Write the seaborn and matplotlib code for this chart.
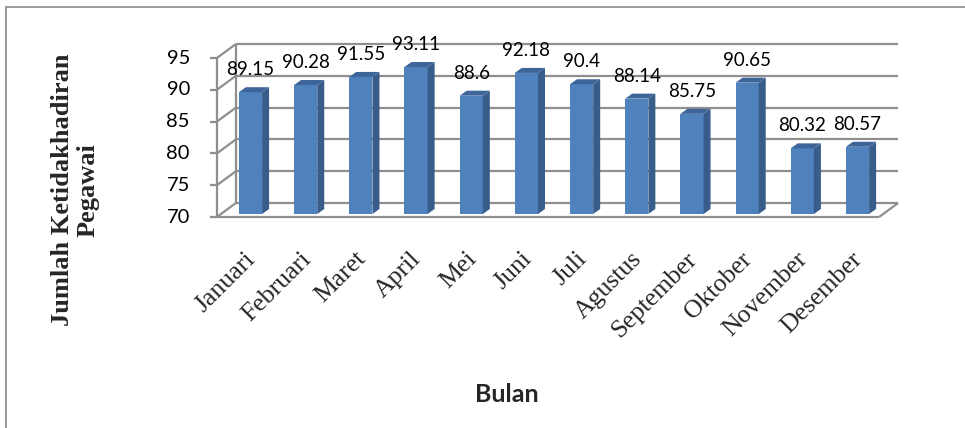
import matplotlib
matplotlib.use("Agg")
import matplotlib.pyplot as plt
from matplotlib.patches import Polygon, Rectangle
import seaborn as sns
import pandas as pd

months = ["Januari", "Februari", "Maret", "April", "Mei", "Juni", "Juli",
          "Agustus", "September", "Oktober", "November", "Desember"]
values = [89.15, 90.28, 91.55, 93.11, 88.6, 92.18, 90.4, 88.14, 85.75, 90.65, 80.32, 80.57]
value_labels = ["89.15", "90.28", "91.55", "93.11", "88.6", "92.18", "90.4", "88.14",
                "85.75", "90.65", "80.32", "80.57"]
yticks = [70, 75, 80, 85, 90, 95]
ylabel = "Jumlah Ketidakhadiran\nPegawai"
xlabel = "Bulan"

sns.set_theme(style="white")
plt.rcParams["font.family"] = ["Lato", "DejaVu Sans"]

W, H = 965, 428
fig = plt.figure(figsize=(W / 100, H / 100), dpi=100)
ax_left, ax_right, ax_top, ax_bot = 222.9, 885.1, 55, 214
ax = fig.add_axes([ax_left / W, (H - ax_bot) / H, (ax_right - ax_left) / W, (ax_bot - ax_top) / H])

df = pd.DataFrame({"month": months, "value": values})
sns.barplot(data=df, x="month", y="value", ax=ax, width=0.42, color="#4F81BD",
            saturation=1, zorder=3, linewidth=0)
ax.set_xlim(-0.5, len(months) - 0.5)
ax.set_ylim(yticks[0], yticks[-1])
ax.axis("off")

# pixel -> data conversions
pxx = (ax_right - ax_left) / len(months)
pxy = (ax_bot - ax_top) / (yticks[-1] - yticks[0])
def d(px, py):
    return px / pxx, py / pxy

fx, fy = d(-6, -3)    # front plane
bx, by = d(13, 11)    # back wall
x0, x1 = -0.5, len(months) - 0.5
y0 = yticks[0]
gc = "#8f8f8f"
glw = 1.6
kw = dict(color=gc, lw=glw, clip_on=False, zorder=1, solid_capstyle="butt")
for v in yticks:
    ax.plot([x0 + bx, x1 + bx], [v + by, v + by], **kw)
    ax.plot([x0 + fx, x0 + bx], [v + fy, v + by], **kw)
    tx, _ = d(-7, 0)
    ax.plot([x0 + fx + tx, x0 + fx], [v + fy, v + fy], **kw)
ax.plot([x0 + bx, x0 + bx], [y0 + by, yticks[-1] + by], **kw)
ax.plot([x0 + fx, x0 + fx], [y0 + fy, yticks[-1] + fy], **kw)
ax.plot([x0 + fx, x1 + fx], [y0 + fy, y0 + fy], **kw)
ax.plot([x1 + fx, x1 + bx], [y0 + fy, y0 + by], **kw)

# 3D faces of the bars
ddx, ddy = d(7, 5)
for p in ax.patches[:len(values)]:
    x, w, h = p.get_x(), p.get_width(), p.get_height()
    top = p.get_y() + h
    base = max(p.get_y(), y0)
    side = Polygon([(x + w, base), (x + w + ddx, base + ddy), (x + w + ddx, top + ddy), (x + w, top)],
                   closed=True, facecolor="#385D8A", edgecolor="none", zorder=3, clip_on=False)
    tp = Polygon([(x, top), (x + w, top), (x + w + ddx, top + ddy), (x + ddx, top + ddy)],
                 closed=True, facecolor="#3D659A", edgecolor="none", zorder=3, clip_on=False)
    ax.add_patch(side)
    ax.add_patch(tp)

# data labels
for i, (v, lab) in enumerate(zip(values, value_labels)):
    ax.annotate(lab, (i, v), xytext=(0, 17 * 0.72), textcoords="offset points",
                ha="center", va="baseline", fontsize=13.5, color="black",
                annotation_clip=False, zorder=5)

# y tick labels on the front plane
for v in yticks:
    ax.annotate(str(v), (x0 + fx, v + fy), xytext=(-27 * 0.72, 0), textcoords="offset points",
                ha="right", va="center", fontsize=14.5, color="black", annotation_clip=False)

# month labels
for i, m in enumerate(months):
    ax.annotate(m, (i, y0), xytext=(6 * 0.72, -46 * 0.72), textcoords="offset points",
                ha="right", va="baseline", rotation=45, rotation_mode="anchor",
                fontsize=18.5, family=["Liberation Serif", "DejaVu Serif"], annotation_clip=False)

fig.text(75 / W, 1 - 190 / H, ylabel, rotation=90, ha="center", va="center",
         multialignment="center", fontsize=19, fontweight="bold",
         family=["Liberation Serif", "DejaVu Serif"], linespacing=1.12)
fig.text(507 / W, 1 - 395 / H, xlabel, ha="center", va="center", fontsize=18,
         fontweight="bold")

fig.patches.append(Rectangle((6 / W, -0.2), 2, 1.2 - 7 / H, transform=fig.transFigure,
                             fill=False, edgecolor="#8a8a8a", lw=1.2))

fig.savefig("out.png", dpi=100)
